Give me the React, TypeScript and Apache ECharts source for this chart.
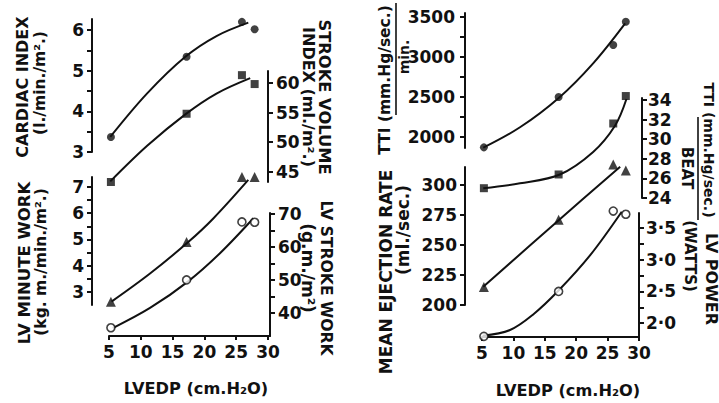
import React, { useEffect, useRef } from "react";
import * as echarts from "echarts";

// LVEDP (cm.H2O) of the four plotted groups
const lvedp = [5.3, 17.2, 25.9, 27.9];

// Left panel
const cardiacIndex = [3.37, 5.34, 6.2, 6.02];
const strokeVolumeIndex = [43.3, 54.8, 61.3, 59.8];
const lvMinuteWork = [2.62, 4.9, 7.38, 7.38];
const lvStrokeWork = [35.5, 50, 67.6, 67.5];

// Right panel
const ttiPerMin = [1870, 2500, 3150, 3440];
const ttiPerBeat = [25.0, 26.4, 31.6, 34.4];
const meanEjectionRate = [215, 271, 317, 312];
const lvPower = [1.79, 2.5, 3.77, 3.72];

// Fitted curves, knots [LVEDP, value]
const cardiacCurve = [[5.2, 3.37], [11.0, 4.44], [17.0, 5.34], [21.9, 5.85], [26.9, 6.18]];
const strokeVolumeCurve = [[5.2, 43.4], [11.0, 49.4], [17.0, 54.7], [21.9, 58.2], [27.2, 60.8]];
const minuteWorkCurve = [[5.4, 2.63], [11.45, 3.7], [17.5, 4.91], [21.4, 5.8], [26.9, 7.27]];
const strokeWorkCurve = [[5.6, 35.4], [11.45, 41.5], [17.4, 49.5], [22.45, 58.1], [27.7, 68.7]];
const ttiMinCurve = [[5.2, 1866], [11.05, 2121], [17.26, 2491], [22.7, 2921], [27.8, 3421]];
const ttiBeatCurve = [[5.2, 25.0], [11.05, 25.5], [17.4, 26.4], [22.7, 28.7], [26.2, 31.4], [28.0, 34.1]];
const ejectionCurve = [[5.2, 215.3], [17.26, 270.8], [27.0, 315.3]];
const powerCurve = [[5.1, 1.8], [9.46, 1.89], [13.2, 2.14], [17.15, 2.51], [22.2, 3.07], [27.25, 3.76]];

// Tick values
const xTicks = [5, 10, 15, 20, 25, 30];
const cardiacLabels = [3, 4, 5, 6];
const cardiacTicks = [3, 3.5, 4, 4.5, 5, 5.5, 6];
const sviLabels = [45, 50, 55, 60];
const minuteWorkLabels = [3, 4, 5, 6, 7];
const minuteWorkTicks = [3, 3.5, 4, 4.5, 5, 5.5, 6, 6.5, 7];
const strokeWorkLabels = [40, 50, 60, 70];
const strokeWorkTicks = [40, 45, 50, 55, 60, 65, 70];
const ttiMinLabels = [2000, 2500, 3000, 3500];
const ttiMinTicks = [2000, 2250, 2500, 2750, 3000, 3250, 3500];
const ttiBeatLabels = [24, 26, 28, 30, 32, 34];
const ejectionLabels = [200, 225, 250, 275, 300];
const powerLabels = [2.0, 2.5, 3.0, 3.5];
const powerTicks = [2.0, 2.25, 2.5, 2.75, 3.0, 3.25, 3.5];

const INK = "#111";
const FONT = '"DejaVu Sans", sans-serif';

// panel x mapping: pixel of LVEDP 5, pixels per unit
const LEFT_PANEL = { p5: 109, k: 6.36 };
const RIGHT_PANEL = { p5: 482, k: 6.28 };

function xRange(panel: { p5: number; k: number }, left: number, width: number) {
  return {
    min: 5 + (left - panel.p5) / panel.k,
    max: 5 + (left + width - panel.p5) / panel.k,
  };
}

export default function App() {
  const ref = useRef<HTMLDivElement>(null);

  useEffect(() => {
    if (!ref.current) return;
    const chart = echarts.init(ref.current, undefined, { renderer: "svg" });

    const grids = [
      { panel: LEFT_PANEL, left: 92, top: 19, width: 178, height: 133 }, // 0 cardiac index
      { panel: LEFT_PANEL, left: 92, top: 71, width: 176, height: 111 }, // 1 stroke volume idx
      { panel: LEFT_PANEL, left: 92, top: 177, width: 178, height: 128 }, // 2 LV minute work
      { panel: LEFT_PANEL, left: 92, top: 213, width: 178, height: 123 }, // 3 LV stroke work
      { panel: LEFT_PANEL, left: 109, top: 300, width: 161, height: 36 }, // 4 x axis
      { panel: RIGHT_PANEL, left: 465, top: 13, width: 175, height: 135 }, // 5 TTI / min
      { panel: RIGHT_PANEL, left: 465, top: 98, width: 177, height: 100 }, // 6 TTI / beat
      { panel: RIGHT_PANEL, left: 465, top: 167, width: 175, height: 138 }, // 7 ejection rate
      { panel: RIGHT_PANEL, left: 465, top: 213, width: 174, height: 124 }, // 8 LV power
      { panel: RIGHT_PANEL, left: 482, top: 300, width: 157, height: 37 }, // 9 x axis
    ];

    const labelStyle = {
      color: INK,
      fontFamily: FONT,
      fontWeight: "bold" as const,
      fontSize: 17,
    };

    const yAxis = (
      gridIndex: number,
      min: number,
      max: number,
      labels: number[],
      ticks: number[],
      position: "left" | "right",
      margin = 8,
      fmt?: (v: number) => string
    ) => ({
      gridIndex,
      type: "value",
      min,
      max,
      position,
      axisLine: { show: true, onZero: false, lineStyle: { color: INK, width: 2 } },
      axisTick: {
        show: true,
        inside: false,
        length: 5,
        customValues: ticks,
        lineStyle: { color: INK, width: 2 },
      },
      axisLabel: {
        show: true,
        customValues: labels,
        margin,
        ...labelStyle,
        formatter: fmt || ((v: number) => String(v)),
      },
      splitLine: { show: false },
    });

    const hiddenY = (gridIndex: number) => ({
      gridIndex,
      type: "value",
      min: 0,
      max: 1,
      show: false,
    });

    const xAxes = grids.map((g, i) => {
      const r = xRange(g.panel, g.left, g.width);
      const isAxis = i === 4 || i === 9;
      return {
        gridIndex: i,
        type: "value",
        min: r.min,
        max: r.max,
        position: "bottom",
        show: isAxis,
        axisLine: { show: true, onZero: false, lineStyle: { color: INK, width: 2 } },
        axisTick: {
          show: true,
          inside: false,
          length: 4,
          customValues: xTicks,
          lineStyle: { color: INK, width: 2 },
        },
        axisLabel: {
          show: true,
          customValues: xTicks,
          margin: 7,
          ...labelStyle,
        },
        splitLine: { show: false },
      };
    });

    const yAxes = [
      yAxis(0, 3, 6.27, cardiacLabels, cardiacTicks, "left"),
      yAxis(1, 43.3, 62, sviLabels, sviLabels, "right"),
      yAxis(2, 2.5, 7.38, minuteWorkLabels, minuteWorkTicks, "left"),
      yAxis(3, 33, 70.3, strokeWorkLabels, strokeWorkTicks, "right"),
      hiddenY(4),
      yAxis(5, 1862, 3550, ttiMinLabels, ttiMinTicks, "left", 10),
      yAxis(6, 24, 34.2, ttiBeatLabels, ttiBeatLabels, "right", 6),
      yAxis(7, 200, 315, ejectionLabels, ejectionLabels, "left"),
      yAxis(8, 1.78, 3.74, powerLabels, powerTicks, "right", 7, (v: number) =>
        v.toFixed(1).replace(".", "·")
      ),
      hiddenY(9),
    ];

    const pts = (ys: number[]) => lvedp.map((x, i) => [x, ys[i]]);

    const curve = (g: number, data: number[][]) => ({
      type: "line",
      xAxisIndex: g,
      yAxisIndex: g,
      data,
      smooth: 0.35,
      symbol: "none",
      showSymbol: false,
      clip: false,
      silent: true,
      lineStyle: { color: INK, width: 2 },
      z: 2,
    });

    const marks = (g: number, ys: number[], kind: "dot" | "square" | "tri" | "open") => ({
      type: "scatter",
      xAxisIndex: g,
      yAxisIndex: g,
      data: pts(ys),
      clip: false,
      silent: true,
      z: 3,
      symbol: kind === "square" ? "rect" : kind === "tri" ? "triangle" : "circle",
      symbolSize: kind === "tri" ? 10 : 8,
      itemStyle:
        kind === "open"
          ? { color: "#fff", borderColor: INK, borderWidth: 1.6 }
          : { color: INK },
    });

    const text = (
      t: string,
      x: number,
      y: number,
      dir: "up" | "down" | "flat",
      size: number
    ) => ({
      type: "text",
      x,
      y,
      rotation: dir === "up" ? Math.PI / 2 : dir === "down" ? -Math.PI / 2 : 0,
      silent: true,
      style: {
        text: t,
        font: `bold ${size}px ${FONT}`,
        fill: INK,
        align: "center",
        verticalAlign: "middle",
        textAlign: "center",
        textVerticalAlign: "middle",
      },
    });

    const bar = (x: number, y1: number, y2: number) => ({
      type: "line",
      silent: true,
      shape: { x1: x, y1, x2: x, y2 },
      style: { stroke: INK, lineWidth: 1.6 },
    });

    const option = {
      animation: false,
      backgroundColor: "#fff",
      grid: grids.map((g) => ({
        left: g.left,
        top: g.top,
        width: g.width,
        height: g.height,
        containLabel: false,
        outerBoundsMode: "none",
      })),
      xAxis: xAxes,
      yAxis: yAxes,
      series: [
        curve(0, cardiacCurve),
        marks(0, cardiacIndex, "dot"),
        curve(1, strokeVolumeCurve),
        marks(1, strokeVolumeIndex, "square"),
        curve(2, minuteWorkCurve),
        marks(2, lvMinuteWork, "tri"),
        curve(3, strokeWorkCurve),
        marks(3, lvStrokeWork, "open"),
        curve(5, ttiMinCurve),
        marks(5, ttiPerMin, "dot"),
        curve(6, ttiBeatCurve),
        marks(6, ttiPerBeat, "square"),
        curve(7, ejectionCurve),
        marks(7, meanEjectionRate, "tri"),
        curve(8, powerCurve),
        marks(8, lvPower, "open"),
      ],
      graphic: [
        text("CARDIAC INDEX", 22, 87, "up", 16),
        text("(l./min./m².)", 40, 83, "up", 15.5),
        text("LV MINUTE WORK", 24, 263, "up", 16.5),
        text("(kg. m./min./m².)", 41, 262, "up", 15.5),
        text("STROKE VOLUME", 324, 97, "down", 16.3),
        text("INDEX (ml./m².)", 308, 97, "down", 16),
        text("LV STROKE WORK", 326, 278, "down", 15.6),
        text("(g.m./m²)", 308, 268, "down", 17),
        text("LVEDP (cm.H₂O)", 196, 388, "flat", 16.2),

        text("TTI (mm.Hg/sec.)", 385, 80, "up", 15.5),
        bar(396, 3, 115),
        text("min.", 404, 57, "up", 14),
        text("MEAN EJECTION RATE", 386, 272, "up", 17),
        text("(ml./sec.)", 403, 230, "up", 17),
        text("TTI (mm.Hg/sec.)", 709, 150, "down", 14),
        bar(698, 117, 220),
        text("BEAT", 687, 168, "down", 15),
        text("LV POWER", 711, 279, "down", 16),
        text("(WATTS)", 690, 256, "down", 15),
        text("LVEDP (cm.H₂O)", 568, 390, "flat", 16.2),
      ],
    };

    chart.setOption(option as any);
    return () => chart.dispose();
  }, []);

  return (
    <div
      ref={ref}
      style={{
        position: "fixed",
        left: 0,
        top: 0,
        width: 719,
        height: 403,
        background: "#fff",
      }}
    />
  );
}
